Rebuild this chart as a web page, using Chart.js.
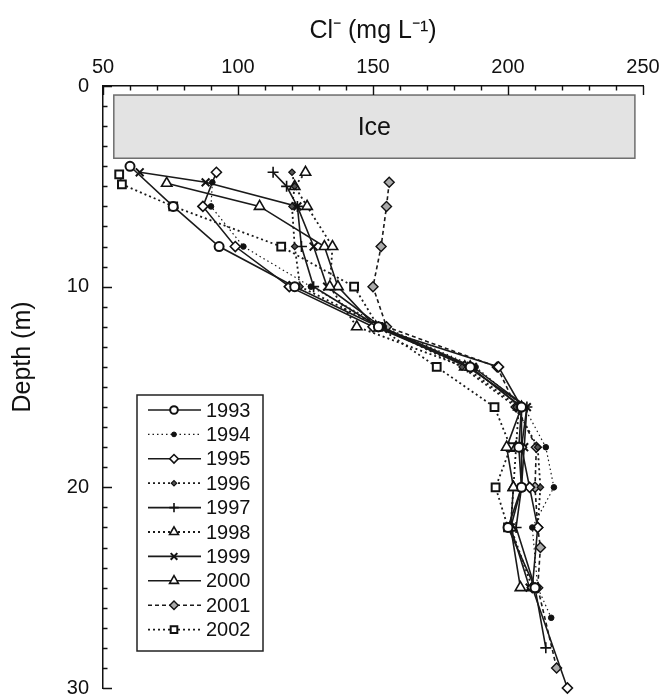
<!DOCTYPE html>
<html>
<head>
<meta charset="utf-8">
<script src="https://cdn.jsdelivr.net/npm/chart.js@4/dist/chart.umd.min.js"></script>
<style>
html,body{margin:0;padding:0;background:#fff;}
canvas{display:block;}
</style>
</head>
<body>
<canvas id="c" width="660" height="697"></canvas>
<script>
// ---- data (Cl- in mg/L versus depth in m) ----
const years = ['1993','1994','1995','1996','1997','1998','1999','2000','2001','2002'];

const depth1993 = [4, 6, 8, 10, 12, 14, 16, 18, 20, 22, 25];
const cl1993    = [60, 76, 93, 121, 152, 186, 205, 204, 205, 200, 210];

const depth1994 = [4.8, 6, 8, 10, 12, 14, 16, 18, 20, 22, 25, 26.5];
const cl1994    = [90.5, 90, 102, 127, 154, 188, 206, 214, 217, 209, 211, 216];

const depth1995 = [4.3, 6, 8, 10, 12, 14, 16, 18, 20, 22, 25, 30];
const cl1995    = [92, 87, 99, 119, 150, 196.5, 205, 205, 208, 211, 209, 222];

const depth1996 = [4.3, 5, 6, 8, 10, 12, 14, 16, 18, 20, 22];
const cl1996    = [120, 121, 120, 121, 123, 153, 183, 203, 211, 212, 211];

const depth1997 = [4.3, 5, 6, 8, 10, 12, 14, 16, 18, 20, 22, 25, 28];
const cl1997    = [113, 118, 122, 123.5, 128, 152, 185, 207, 205, 205, 203, 210, 214];

const depth1998 = [4.3, 5, 6, 8, 10, 12, 14, 16, 18, 20, 22, 25];
const cl1998    = [125, 121, 125.6, 135, 134, 144, 184, 204, 203, 202, 201, 209];

const depth1999 = [4.3, 4.8, 6, 8, 10, 12, 14, 16, 18, 20, 22, 25];
const cl1999    = [63.6, 88, 122, 128, 133, 153, 187, 207, 206, 205, 201, 208];

const depth2000 = [4.85, 6, 8, 10, 12, 14, 16, 18, 20, 22, 25];
const cl2000    = [73.6, 108, 132, 137, 151, 186, 205, 199.5, 202, 201, 204.6];

const depth2001 = [4.8, 6, 8, 10, 12, 14, 16, 18, 20, 22, 23, 25, 29];
const cl2001    = [156, 155, 153, 150, 155, 196, 203, 210.5, 210, 211, 212, 211, 218];

const depth2002 = [4.4, 4.9, 6, 8, 10, 12, 14, 16, 18, 20, 22];
const cl2002    = [56, 57, 76, 116, 143, 152, 173.6, 195, 201, 195.4, 200];

const iceCl = [54, 247];        // ice band extent on Cl axis
const iceDepth = [0.45, 3.6];   // ice band extent on depth axis
const xTicks = [50, 100, 150, 200, 250];
const yTicks = [0, 10, 20, 30];

// ---- styles ----
const FONT = '"Liberation Sans", Arial, Helvetica, sans-serif';
const styles = {
  '1993': {dash: [], width: 1.6, pt: 'circle', r: 4.5, bg: '#fff', bw: 2},
  '1994': {dash: [1.5, 3], width: 1.2, pt: 'circle', r: 2.8, bg: '#111', bw: 1},
  '1995': {dash: [], width: 1.6, pt: 'rectRot', r: 5, bg: '#fff', bw: 1.6},
  '1996': {dash: [2, 3], width: 1.8, pt: 'rectRot', r: 3.2, bg: '#555', bw: 1.2},
  '1997': {dash: [], width: 1.6, pt: 'cross', r: 5.5, bg: '#fff', bw: 1.6},
  '1998': {dash: [2, 3], width: 1.8, pt: 'triangle', r: 6, bg: '#fff', bw: 1.6},
  '1999': {dash: [], width: 1.6, pt: 'crossRot', r: 5.5, bg: '#fff', bw: 2},
  '2000': {dash: [], width: 1.6, pt: 'triangle', r: 6, bg: '#fff', bw: 1.6},
  '2001': {dash: [4, 3], width: 1.6, pt: 'rectRot', r: 5, bg: '#aaa', bw: 1.4},
  '2002': {dash: [2, 3], width: 1.8, pt: 'rect', r: 5.5, bg: '#fff', bw: 2}
};
const seriesDepth = [depth1993, depth1994, depth1995, depth1996, depth1997, depth1998, depth1999, depth2000, depth2001, depth2002];
const seriesCl = [cl1993, cl1994, cl1995, cl1996, cl1997, cl1998, cl1999, cl2000, cl2001, cl2002];

const datasets = years.map((yr, i) => {
  const s = styles[yr];
  return {
    label: yr,
    data: seriesDepth[i].map((d, j) => ({x: seriesCl[i][j], y: d})),
    showLine: true,
    borderColor: '#1a1a1a',
    borderWidth: s.width,
    borderDash: s.dash,
    pointStyle: s.pt,
    pointRadius: s.r,
    pointBackgroundColor: s.bg,
    pointBorderColor: '#111',
    pointBorderWidth: s.bw,
    fill: false,
    tension: 0,
    clip: false
  };
});

// ice band drawn from data values through the scales
const icePlugin = {
  id: 'ice',
  beforeDatasetsDraw(chart) {
    const {ctx, scales: {x, y}} = chart;
    const x0 = x.getPixelForValue(iceCl[0]), x1 = x.getPixelForValue(iceCl[1]);
    const y0 = y.getPixelForValue(iceDepth[0]), y1 = y.getPixelForValue(iceDepth[1]);
    ctx.save();
    ctx.fillStyle = '#e3e3e3';
    ctx.strokeStyle = '#6e6e6e';
    ctx.lineWidth = 1.5;
    ctx.fillRect(x0, y0, x1 - x0, y1 - y0);
    ctx.strokeRect(x0, y0, x1 - x0, y1 - y0);
    ctx.fillStyle = '#111';
    ctx.font = '25px ' + FONT;
    ctx.textAlign = 'center';
    ctx.textBaseline = 'middle';
    ctx.fillText('Ice', (x0 + x1) / 2, (y0 + y1) / 2 + 1);
    ctx.restore();
  }
};

// inward tick marks and axis titles
const tickPlugin = {
  id: 'inTicks',
  afterDraw(chart) {
    const {ctx, scales: {x, y}, chartArea} = chart;
    ctx.save();
    ctx.strokeStyle = '#111';
    ctx.lineWidth = 1.4;
    ctx.beginPath();
    for (let v = 50; v <= 250; v += 10) {
      const px = Math.round(x.getPixelForValue(v)) + 0.5;
      const len = v % 50 === 0 ? 9 : 4.5;
      ctx.moveTo(px, chartArea.top);
      ctx.lineTo(px, chartArea.top + len);
    }
    for (let d = 0; d <= 30; d += 1) {
      const py = Math.round(y.getPixelForValue(d)) + 0.5;
      const len = d % 10 === 0 ? 9 : 4.5;
      ctx.moveTo(chartArea.left, py);
      ctx.lineTo(chartArea.left + len, py);
    }
    ctx.stroke();
    // axis titles
    ctx.fillStyle = '#111';
    ctx.font = '25px ' + FONT;
    ctx.textAlign = 'center';
    ctx.textBaseline = 'middle';
    ctx.fillText('Cl⁻ (mg L⁻¹)', (chartArea.left + chartArea.right) / 2, 31);
    ctx.translate(23, 357);
    ctx.rotate(-Math.PI / 2);
    ctx.fillText('Depth (m)', 0, 0);
    ctx.restore();
  }
};

// legend box inside the plot
const legendPlugin = {
  id: 'boxLegend',
  afterDraw(chart) {
    const {ctx} = chart;
    const bx = 137, by = 395, bw = 126, bh = 256;
    const rowH = 24.4, firstY = 410;
    ctx.save();
    ctx.fillStyle = '#fff';
    ctx.fillRect(bx, by, bw, bh);
    ctx.strokeStyle = '#222';
    ctx.lineWidth = 1.5;
    ctx.strokeRect(bx, by, bw, bh);
    chart.data.datasets.forEach((ds, i) => {
      const cy = firstY + i * rowH;
      ctx.save();
      ctx.strokeStyle = ds.borderColor;
      ctx.lineWidth = ds.borderWidth;
      ctx.setLineDash(ds.borderDash);
      ctx.beginPath();
      ctx.moveTo(148, cy);
      ctx.lineTo(201, cy);
      ctx.stroke();
      ctx.setLineDash([]);
      ctx.fillStyle = ds.pointBackgroundColor;
      ctx.strokeStyle = ds.pointBorderColor;
      ctx.lineWidth = ds.pointBorderWidth;
      Chart.helpers.drawPoint(ctx, {pointStyle: ds.pointStyle, radius: ds.pointRadius * 0.85, rotation: 0, borderWidth: ds.pointBorderWidth}, 174, cy);
      ctx.restore();
      ctx.fillStyle = '#111';
      ctx.font = '20px ' + FONT;
      ctx.textAlign = 'left';
      ctx.textBaseline = 'middle';
      ctx.fillText(ds.label, 206, cy + 1);
    });
    ctx.restore();
  }
};

new Chart(document.getElementById('c'), {
  type: 'scatter',
  data: {datasets},
  options: {
    responsive: false,
    animation: false,
    layout: {padding: {left: 0, right: 17, top: 0, bottom: 9}},
    plugins: {legend: {display: false}, tooltip: {enabled: false}},
    scales: {
      x: {
        type: 'linear', position: 'top', min: 50, max: 250,
        afterBuildTicks(s) { s.ticks = xTicks.map(v => ({value: v})); },
        ticks: {font: {size: 20, family: FONT}, color: '#111', padding: 7},
        grid: {display: false, drawTicks: false},
        border: {display: true, color: '#111', width: 1.5},
        title: {display: false},
        afterFit(s) { s.height = 86; s.paddingLeft = 0; s.paddingRight = 0; }
      },
      y: {
        type: 'linear', reverse: true, min: 0, max: 30,
        afterBuildTicks(s) { s.ticks = yTicks.map(v => ({value: v})); },
        ticks: {font: {size: 20, family: FONT}, color: '#111', padding: 14},
        grid: {display: false, drawTicks: false},
        border: {display: true, color: '#111', width: 1.5},
        title: {display: false},
        afterFit(s) { s.width = 103; s.paddingTop = 0; s.paddingBottom = 0; }
      }
    }
  },
  plugins: [icePlugin, tickPlugin, legendPlugin]
});
</script>
</body>
</html>
